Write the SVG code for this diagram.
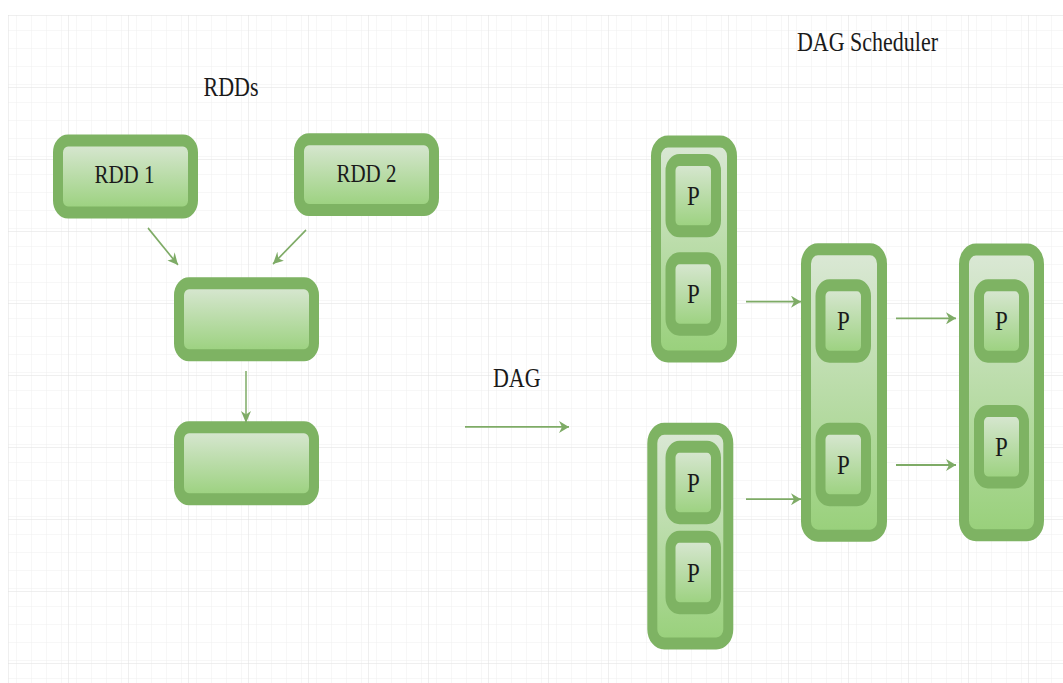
<svg xmlns="http://www.w3.org/2000/svg" width="1063" height="683" viewBox="0 0 1063 683">
  <defs>
    <pattern id="minor" x="8" y="12.5" width="15" height="15" patternUnits="userSpaceOnUse">
      <path d="M15 0 H0 V15" fill="none" stroke="#efefef" stroke-width="1"/>
    </pattern>
    <pattern id="major" x="8" y="12.5" width="60" height="60" patternUnits="userSpaceOnUse">
      <rect width="60" height="60" fill="url(#minor)"/>
      <path d="M60 0 H0 V60" fill="none" stroke="#e0e0e0" stroke-width="1"/>
    </pattern>
    <linearGradient id="fillG" x1="0" y1="0" x2="0" y2="1">
      <stop offset="0" stop-color="#dbe8d6"/>
      <stop offset="1" stop-color="#98d07a"/>
    </linearGradient>
    <marker id="arr" viewBox="0 0 10 10" refX="10" refY="5" markerWidth="10" markerHeight="10" markerUnits="userSpaceOnUse" orient="auto">
      <path d="M0,0 L10,5 L0,10 L3,5 z" fill="#7eab66"/>
    </marker>
    <style>
      .box { fill: url(#fillG); stroke: #7eb363; stroke-width: 10; }
      .pbox { fill: url(#fillG); stroke: #7eb363; stroke-width: 10; }
      .edge { fill: none; stroke: #7eab66; stroke-width: 1.5; marker-end: url(#arr); }
      .lbl { font-family: "Liberation Serif", "Times New Roman", serif; font-size: 21px; fill: #1a1a1a; text-anchor: middle; }
      .p { font-family: "Liberation Serif", "Times New Roman", serif; font-size: 23px; fill: #1a1a1a; text-anchor: middle; }
      .ttl { font-family: "Liberation Serif", "Times New Roman", serif; font-size: 22px; fill: #1a1a1a; text-anchor: middle; }
    </style>
  </defs>
  <rect width="1063" height="683" fill="#ffffff"/>
  <g transform="scale(1,1.2)">
    <rect id="grid" x="8" y="12.5" width="1055" height="557" fill="url(#major)"/>

    <text class="ttl" x="231" y="80.4">RDDs</text>
    <text class="ttl" x="867.5" y="42.9">DAG Scheduler</text>
    <text class="ttl" x="516.7" y="322.5">DAG</text>

    <g id="rdd1">
      <rect class="box" x="58" y="117" width="135" height="60" rx="10"/>
      <text class="lbl" x="124.5" y="152.5">RDD 1</text>
    </g>
    <g id="rdd2">
      <rect class="box" x="299" y="116" width="135" height="59" rx="10"/>
      <text class="lbl" x="366.5" y="151.7">RDD 2</text>
    </g>
    <g id="rdd3">
      <rect class="box" x="179" y="236" width="135" height="60" rx="10"/>
    </g>
    <g id="rdd4">
      <rect class="box" x="179" y="356" width="135" height="60" rx="10"/>
    </g>

    <g id="stageA">
      <rect class="box" x="656" y="118" width="76" height="179" rx="12"/>
      <rect class="pbox" x="670.5" y="133.3" width="45.5" height="59.5" rx="9"/>
      <text class="p" x="693.3" y="170.6">P</text>
      <rect class="pbox" x="670.5" y="215.3" width="45.5" height="59.5" rx="9"/>
      <text class="p" x="693.3" y="252.6">P</text>
    </g>
    <g id="stageD">
      <rect class="box" x="652.3" y="357.3" width="76" height="179" rx="12"/>
      <rect class="pbox" x="670.5" y="372.3" width="45.5" height="59.5" rx="9"/>
      <text class="p" x="693.3" y="409.6">P</text>
      <rect class="pbox" x="670.5" y="447.3" width="45.5" height="59.5" rx="9"/>
      <text class="p" x="693.3" y="484.6">P</text>
    </g>
    <g id="stageB">
      <rect class="box" x="806" y="207.8" width="76" height="238.7" rx="12"/>
      <rect class="pbox" x="820.5" y="237.8" width="45.5" height="59.5" rx="9"/>
      <text class="p" x="843.3" y="275.1">P</text>
      <rect class="pbox" x="820.5" y="357.3" width="45.5" height="59.5" rx="9"/>
      <text class="p" x="843.3" y="394.6">P</text>
    </g>
    <g id="stageC">
      <rect class="box" x="964" y="208" width="75" height="238" rx="12"/>
      <rect class="pbox" x="979" y="237.8" width="45" height="59.5" rx="9"/>
      <text class="p" x="1001.5" y="275.1">P</text>
      <rect class="pbox" x="979" y="342.5" width="45" height="59.5" rx="9"/>
      <text class="p" x="1001.5" y="379.8">P</text>
    </g>

    <g id="connectors">
      <line class="edge" x1="148" y1="190" x2="178" y2="220.8"/>
      <line class="edge" x1="306" y1="191.7" x2="273" y2="220"/>
      <line class="edge" x1="246" y1="309.2" x2="246" y2="352.5"/>
      <line class="edge" x1="465" y1="355.8" x2="569" y2="355.8"/>
      <line class="edge" x1="746" y1="251.4" x2="801" y2="251.4"/>
      <line class="edge" x1="746" y1="416" x2="801" y2="416"/>
      <line class="edge" x1="896" y1="265.3" x2="956" y2="265.3"/>
      <line class="edge" x1="896" y1="387.5" x2="956" y2="387.5"/>
    </g>
  </g>
</svg>
